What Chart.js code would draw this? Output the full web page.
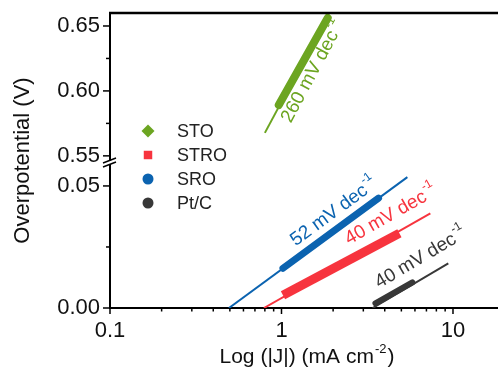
<!DOCTYPE html>
<html>
<head>
<meta charset="utf-8">
<script src="https://cdn.jsdelivr.net/npm/chart.js@4.4.1/dist/chart.umd.min.js"></script>
<style>
html, body { margin: 0; padding: 0; background: #fff; }
#wrap { width: 498px; height: 381px; }
</style>
</head>
<body>
<div id="wrap"><canvas id="tafel-chart"></canvas></div>
<script>
// DATA
var seriesNames = ['STO', 'STRO', 'SRO', 'Pt/C'];
var seriesColors = ['#6ca521', '#f7343e', '#0b63b0', '#383838'];
var seriesMarkers = ['rectRot', 'rect', 'circle', 'circle'];
var slopeLabels = ['260', '40', '52', '40'];

// fitted Tafel lines (thin): current density (mA cm-2) and overpotential (V)
var fitJ = [[0.80, 1.91], [0.79, 7.38], [0.494, 5.42], [3.40, 9.39]];
var fitEta = [[0.5677, 0.6608], [0.0, 0.0388], [0.0, 0.0536], [0.0, 0.0183]];
// measured part (thick)
var dataJ = [[0.964, 1.86], [1.02, 4.87], [1.02, 3.68], [3.53, 5.8]];
var dataEta = [[0.5892, 0.6562], [0.0052, 0.0306], [0.0163, 0.045], [0.0019, 0.0105]];
// where the slope text sits
var textJ = [1.52, 4.32, 2.01, 6.45];
var textEta = [0.6146, 0.038, 0.0392, 0.0204];

var xTicks = [0.1, 1, 10];
var xMinor = [0.2, 0.3, 0.4, 0.5, 0.6, 0.7, 0.8, 0.9, 2, 3, 4, 5, 6, 7, 8, 9];
var yTopTicks = [0.55, 0.60, 0.65];
var yTopMinor = [0.575, 0.625];
var yBotTicks = [0.00, 0.05];
var yBotMinor = [0.025];

var FONT = "'Liberation Sans', Arial, Helvetica, sans-serif";
var thickWidth = [8, 9, 7, 6];

function axisFor(i) { return i === 0 ? 'yTop' : 'yBot'; }

function buildDatasets() {
    var sets = [];
    for (var i = 0; i < seriesNames.length; i++) {
        sets.push({
            label: seriesNames[i] + ' fit',
            data: fitJ[i].map(function (x, k) { return { x: x, y: fitEta[i][k] }; }),
            yAxisID: axisFor(i),
            showLine: true,
            borderColor: seriesColors[i],
            borderWidth: 2,
            pointRadius: 0
        });
        sets.push({
            label: seriesNames[i],
            data: dataJ[i].map(function (x, k) { return { x: x, y: dataEta[i][k] }; }),
            yAxisID: axisFor(i),
            showLine: true,
            borderColor: seriesColors[i],
            borderWidth: thickWidth[i],
            borderCapStyle: i === 1 ? 'butt' : 'round',
            pointRadius: 0
        });
    }
    return sets;
}

// tick marks, frame top line and the axis break
var framePlugin = {
    id: 'frame',
    afterDraw: function (chart) {
        var ctx = chart.ctx, area = chart.chartArea;
        var x = chart.scales.x, yT = chart.scales.yTop, yB = chart.scales.yBot;
        ctx.save();
        ctx.strokeStyle = '#000';
        ctx.lineWidth = 1.5;
        function tick(x1, y1, x2, y2) { ctx.beginPath(); ctx.moveTo(x1, y1); ctx.lineTo(x2, y2); ctx.stroke(); }
        xTicks.forEach(function (v) { var p = x.getPixelForValue(v); tick(p, area.bottom, p, area.bottom + 6); });
        xMinor.forEach(function (v) { var p = x.getPixelForValue(v); tick(p, area.bottom, p, area.bottom + 3.5); });
        yTopTicks.forEach(function (v) { var p = yT.getPixelForValue(v); tick(area.left, p, area.left - 7, p); });
        yTopMinor.forEach(function (v) { var p = yT.getPixelForValue(v); tick(area.left, p, area.left - 4, p); });
        yBotTicks.forEach(function (v) { var p = yB.getPixelForValue(v); tick(area.left, p, area.left - 7, p); });
        yBotMinor.forEach(function (v) { var p = yB.getPixelForValue(v); tick(area.left, p, area.left - 4, p); });

        // top frame line
        ctx.lineWidth = 2.5;
        tick(area.left - 1, area.top, area.right, area.top);

        // break marks
        var by = yT.bottom, bx = area.left;
        ctx.fillStyle = '#fff';
        ctx.beginPath();
        ctx.moveTo(bx - 7, by + 0); ctx.lineTo(bx + 6, by - 5);
        ctx.lineTo(bx + 6, by - 1); ctx.lineTo(bx - 7, by + 4);
        ctx.closePath(); ctx.fill();
        ctx.lineWidth = 1.5;
        tick(bx - 7, by + 0, bx + 6, by - 5);
        tick(bx - 7, by + 4, bx + 6, by - 1);
        ctx.restore();
    }
};

// superscript text helper
function drawSup(ctx, base, sup, size, cx, cy) {
    ctx.font = size + 'px ' + FONT;
    var w1 = ctx.measureText(base).width;
    ctx.font = Math.round(size * 0.62) + 'px ' + FONT;
    var w2 = ctx.measureText(sup).width;
    var start = cx - (w1 + w2) / 2;
    return { start: start, w1: w1, w2: w2 };
}

var textPlugin = {
    id: 'texts',
    afterDraw: function (chart) {
        var ctx = chart.ctx, area = chart.chartArea;
        var x = chart.scales.x;
        ctx.save();
        ctx.textBaseline = 'middle';
        ctx.textAlign = 'left';

        // slope labels along each line
        for (var i = 0; i < seriesNames.length; i++) {
            var y = chart.scales[axisFor(i)];
            var px = x.getPixelForValue(textJ[i]), py = y.getPixelForValue(textEta[i]);
            var ang = Math.atan2(y.getPixelForValue(fitEta[i][1]) - y.getPixelForValue(fitEta[i][0]),
                                 x.getPixelForValue(fitJ[i][1]) - x.getPixelForValue(fitJ[i][0]));
            ctx.save();
            ctx.translate(px, py);
            ctx.rotate(ang);
            ctx.fillStyle = seriesColors[i];
            var base = slopeLabels[i] + ' mV dec', size = 19;
            var m = drawSup(ctx, base, '-1', size, 0, 0);
            ctx.font = size + 'px ' + FONT;
            ctx.fillText(base, m.start, 0);
            ctx.font = Math.round(size * 0.62) + 'px ' + FONT;
            ctx.fillText('-1', m.start + m.w1 + 1, -8);
            ctx.restore();
        }

        // legend
        for (var j = 0; j < seriesNames.length; j++) {
            var ly = 131 + 24 * j;
            ctx.fillStyle = seriesColors[j];
            ctx.strokeStyle = seriesColors[j];
            Chart.helpers.drawPoint(ctx, {
                pointStyle: seriesMarkers[j],
                radius: j === 0 ? 6.5 : (j === 1 ? 6 : 5.5),
                borderWidth: 0
            }, 148, ly);
            ctx.fillStyle = '#222';
            ctx.font = '18px ' + FONT;
            ctx.fillText(seriesNames[j], 177, ly + 1);
        }

        // axis titles
        ctx.fillStyle = '#111';
        ctx.save();
        ctx.translate(23, (area.top + area.bottom) / 2);
        ctx.rotate(-Math.PI / 2);
        ctx.textAlign = 'center';
        ctx.font = '22px ' + FONT;
        ctx.fillText('Overpotential (V)', 0, 0);
        ctx.restore();

        var tb = 'Log (|J|) (mA cm', tsize = 21;
        var mm = drawSup(ctx, tb + ')', '-2', tsize, (area.left + area.right) / 2 + 2, 0);
        ctx.font = tsize + 'px ' + FONT;
        var wb = ctx.measureText(tb).width;
        ctx.fillText(tb, mm.start, 357);
        ctx.font = Math.round(tsize * 0.62) + 'px ' + FONT;
        ctx.fillText('-2', mm.start + wb + 1, 349);
        ctx.font = tsize + 'px ' + FONT;
        ctx.fillText(')', mm.start + wb + mm.w2 + 2, 357);
        ctx.restore();
    }
};

function yAxis(min, max, ticks, weight) {
    return {
        type: 'linear',
        position: 'left',
        stack: 'eta',
        stackWeight: weight,
        min: min,
        max: max,
        afterBuildTicks: function (s) { s.ticks = ticks.map(function (v) { return { value: v }; }); },
        afterFit: function (s) { s.width = 110; s.paddingTop = 0; s.paddingBottom = 0; },
        grid: { display: false, drawTicks: false },
        border: { display: true, color: '#000', width: 2 },
        ticks: {
            padding: 10,
            color: '#111',
            font: { family: FONT, size: 22 },
            callback: function (v) { return Number(v).toFixed(2); }
        }
    };
}

var tafelChart;
function loadTafelChart() {
    var canvas = document.getElementById('tafel-chart');
    var context = canvas.getContext('2d');
    tafelChart = new Chart(context, {
        type: 'scatter',
        data: { datasets: buildDatasets() },
        options: {
            responsive: true,
            maintainAspectRatio: false,
            animation: false,
            layout: { padding: { top: 13, right: 0, left: 0, bottom: 0 } },
            plugins: { legend: { display: false }, tooltip: { enabled: false } },
            scales: {
                x: {
                    type: 'logarithmic',
                    position: 'bottom',
                    min: 0.1,
                    max: 18.3,
                    afterBuildTicks: function (s) { s.ticks = xTicks.map(function (v) { return { value: v }; }); },
                    afterFit: function (s) { s.height = 73; s.paddingLeft = 0; s.paddingRight = 0; },
                    grid: { display: false, drawTicks: false },
                    border: { display: true, color: '#000', width: 2 },
                    ticks: {
                        padding: 10,
                        color: '#111',
                        maxRotation: 0,
                        autoSkip: false,
                        font: { family: FONT, size: 22 },
                        callback: function (v) { return String(v); }
                    }
                },
                yBot: yAxis(0, 0.0594, yBotTicks, 145),
                yTop: yAxis(0.5445, 0.66, yTopTicks, 150)
            }
        },
        plugins: [framePlugin, textPlugin]
    });
}

loadTafelChart();
</script>
</body>
</html>
